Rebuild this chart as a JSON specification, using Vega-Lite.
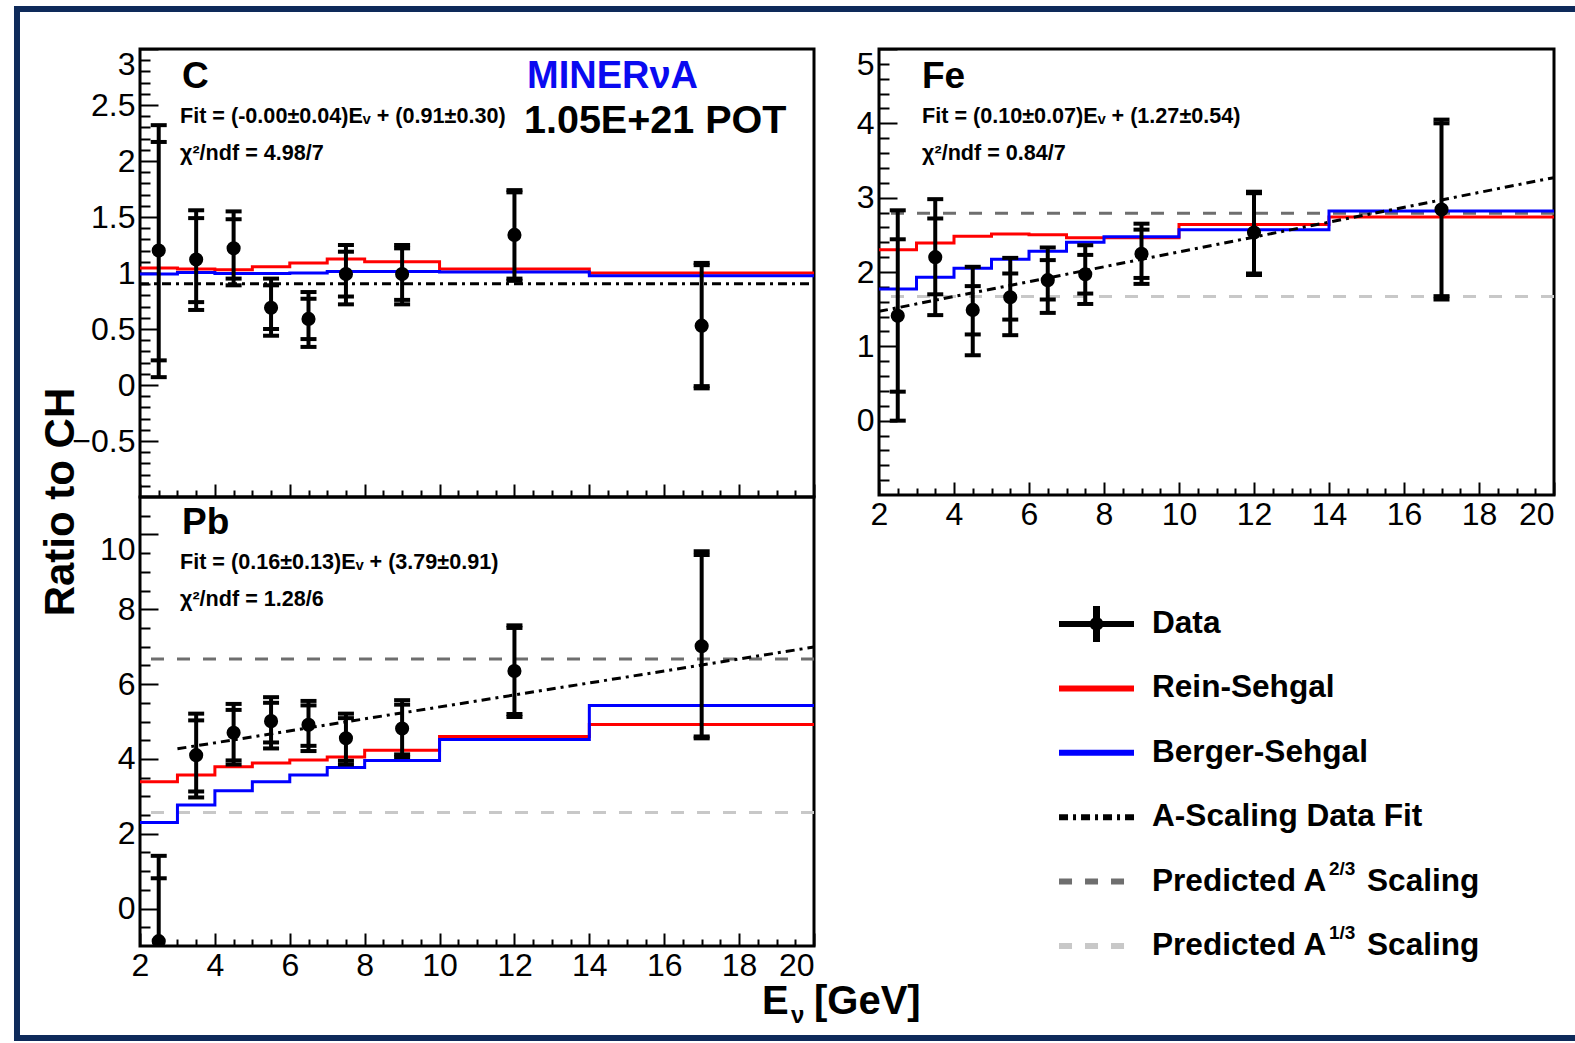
{
  "$schema": "https://vega.github.io/schema/vega-lite/v6.json",
  "padding": {"left": 9, "top": 1, "right": 0, "bottom": 1},
  "background": "white",
  "config": {
    "view": {"stroke": "black", "strokeWidth": 3},
    "axis": {"labelFont": "Liberation Sans", "labelFontSize": 32, "labelColor": "black", "tickColor": "black", "tickWidth": 2, "domain": false, "grid": false, "title": null, "labelOverlap": false, "labelFlush": false, "format": "~r"}
  },
  "datasets": {
    "one": [{}],
    "points": [
      {"panel": "C", "E": 2.5, "r": 1.2, "in_lo": 0.22, "in_hi": 2.17, "out_lo": 0.07, "out_hi": 2.32},
      {"panel": "C", "E": 3.5, "r": 1.12, "in_lo": 0.74, "in_hi": 1.49, "out_lo": 0.67, "out_hi": 1.56},
      {"panel": "C", "E": 4.5, "r": 1.22, "in_lo": 0.95, "in_hi": 1.48, "out_lo": 0.89, "out_hi": 1.55},
      {"panel": "C", "E": 5.5, "r": 0.69, "in_lo": 0.5, "in_hi": 0.89, "out_lo": 0.44, "out_hi": 0.95},
      {"panel": "C", "E": 6.5, "r": 0.59, "in_lo": 0.41, "in_hi": 0.77, "out_lo": 0.34, "out_hi": 0.83},
      {"panel": "C", "E": 7.5, "r": 0.99, "in_lo": 0.79, "in_hi": 1.19, "out_lo": 0.72, "out_hi": 1.25},
      {"panel": "C", "E": 9, "r": 0.99, "in_lo": 0.76, "in_hi": 1.22, "out_lo": 0.72, "out_hi": 1.25},
      {"panel": "C", "E": 12, "r": 1.34, "in_lo": 0.95, "in_hi": 1.72, "out_lo": 0.93, "out_hi": 1.74},
      {"panel": "C", "E": 17, "r": 0.53, "in_lo": -0.01, "in_hi": 1.07, "out_lo": -0.03, "out_hi": 1.09},
      {"panel": "Fe", "E": 2.5, "r": 1.41, "in_lo": 0.39, "in_hi": 2.44, "out_lo": 0.0, "out_hi": 2.83},
      {"panel": "Fe", "E": 3.5, "r": 2.2, "in_lo": 1.7, "in_hi": 2.72, "out_lo": 1.42, "out_hi": 2.98},
      {"panel": "Fe", "E": 4.5, "r": 1.49, "in_lo": 1.16, "in_hi": 1.81, "out_lo": 0.88, "out_hi": 2.07},
      {"panel": "Fe", "E": 5.5, "r": 1.66, "in_lo": 1.36, "in_hi": 1.98, "out_lo": 1.15, "out_hi": 2.19},
      {"panel": "Fe", "E": 6.5, "r": 1.89, "in_lo": 1.63, "in_hi": 2.16, "out_lo": 1.45, "out_hi": 2.33},
      {"panel": "Fe", "E": 7.5, "r": 1.97, "in_lo": 1.71, "in_hi": 2.23, "out_lo": 1.57, "out_hi": 2.36},
      {"panel": "Fe", "E": 9, "r": 2.245, "in_lo": 1.92, "in_hi": 2.57, "out_lo": 1.84, "out_hi": 2.65},
      {"panel": "Fe", "E": 12, "r": 2.53, "in_lo": 1.98, "in_hi": 3.06, "out_lo": 1.96, "out_hi": 3.08},
      {"panel": "Fe", "E": 17, "r": 2.84, "in_lo": 1.675, "in_hi": 4.0, "out_lo": 1.63, "out_hi": 4.05},
      {"panel": "Pb", "E": 2.5, "r": -0.87, "in_lo": -2.55, "in_hi": 0.81, "out_lo": -3.15, "out_hi": 1.41},
      {"panel": "Pb", "E": 3.5, "r": 4.1, "in_lo": 3.13, "in_hi": 5.03, "out_lo": 2.97, "out_hi": 5.21},
      {"panel": "Pb", "E": 4.5, "r": 4.7, "in_lo": 3.96, "in_hi": 5.31, "out_lo": 3.85, "out_hi": 5.47},
      {"panel": "Pb", "E": 5.5, "r": 5.01, "in_lo": 4.44, "in_hi": 5.5, "out_lo": 4.28, "out_hi": 5.65},
      {"panel": "Pb", "E": 6.5, "r": 4.91, "in_lo": 4.35, "in_hi": 5.43, "out_lo": 4.21, "out_hi": 5.55},
      {"panel": "Pb", "E": 7.5, "r": 4.55, "in_lo": 3.95, "in_hi": 5.09, "out_lo": 3.85, "out_hi": 5.21},
      {"panel": "Pb", "E": 9, "r": 4.81, "in_lo": 4.12, "in_hi": 5.45, "out_lo": 4.05, "out_hi": 5.57},
      {"panel": "Pb", "E": 12, "r": 6.35, "in_lo": 5.2, "in_hi": 7.5, "out_lo": 5.12, "out_hi": 7.57},
      {"panel": "Pb", "E": 17, "r": 7.01, "in_lo": 4.6, "in_hi": 9.45, "out_lo": 4.55, "out_hi": 9.55}
    ],
    "steps": [
      {"panel": "C", "series": "Rein-Sehgal", "E": 2, "r": 1.044},
      {"panel": "C", "series": "Rein-Sehgal", "E": 3, "r": 1.035},
      {"panel": "C", "series": "Rein-Sehgal", "E": 4, "r": 1.03},
      {"panel": "C", "series": "Rein-Sehgal", "E": 5, "r": 1.055},
      {"panel": "C", "series": "Rein-Sehgal", "E": 6, "r": 1.09},
      {"panel": "C", "series": "Rein-Sehgal", "E": 7, "r": 1.125},
      {"panel": "C", "series": "Rein-Sehgal", "E": 8, "r": 1.1},
      {"panel": "C", "series": "Rein-Sehgal", "E": 10, "r": 1.035},
      {"panel": "C", "series": "Rein-Sehgal", "E": 14, "r": 1.0},
      {"panel": "C", "series": "Rein-Sehgal", "E": 20, "r": 1.0},
      {"panel": "C", "series": "Berger-Sehgal", "E": 2, "r": 0.99},
      {"panel": "C", "series": "Berger-Sehgal", "E": 3, "r": 1.005},
      {"panel": "C", "series": "Berger-Sehgal", "E": 4, "r": 0.995},
      {"panel": "C", "series": "Berger-Sehgal", "E": 5, "r": 0.995},
      {"panel": "C", "series": "Berger-Sehgal", "E": 6, "r": 1.0},
      {"panel": "C", "series": "Berger-Sehgal", "E": 7, "r": 1.013},
      {"panel": "C", "series": "Berger-Sehgal", "E": 8, "r": 1.013},
      {"panel": "C", "series": "Berger-Sehgal", "E": 10, "r": 1.008},
      {"panel": "C", "series": "Berger-Sehgal", "E": 14, "r": 0.975},
      {"panel": "C", "series": "Berger-Sehgal", "E": 20, "r": 0.975},
      {"panel": "Fe", "series": "Rein-Sehgal", "E": 2, "r": 2.3},
      {"panel": "Fe", "series": "Rein-Sehgal", "E": 3, "r": 2.39},
      {"panel": "Fe", "series": "Rein-Sehgal", "E": 4, "r": 2.48},
      {"panel": "Fe", "series": "Rein-Sehgal", "E": 5, "r": 2.51},
      {"panel": "Fe", "series": "Rein-Sehgal", "E": 6, "r": 2.5},
      {"panel": "Fe", "series": "Rein-Sehgal", "E": 7, "r": 2.46},
      {"panel": "Fe", "series": "Rein-Sehgal", "E": 8, "r": 2.46},
      {"panel": "Fe", "series": "Rein-Sehgal", "E": 10, "r": 2.64},
      {"panel": "Fe", "series": "Rein-Sehgal", "E": 14, "r": 2.74},
      {"panel": "Fe", "series": "Rein-Sehgal", "E": 20, "r": 2.74},
      {"panel": "Fe", "series": "Berger-Sehgal", "E": 2, "r": 1.77},
      {"panel": "Fe", "series": "Berger-Sehgal", "E": 3, "r": 1.93},
      {"panel": "Fe", "series": "Berger-Sehgal", "E": 4, "r": 2.05},
      {"panel": "Fe", "series": "Berger-Sehgal", "E": 5, "r": 2.17},
      {"panel": "Fe", "series": "Berger-Sehgal", "E": 6, "r": 2.28},
      {"panel": "Fe", "series": "Berger-Sehgal", "E": 7, "r": 2.4},
      {"panel": "Fe", "series": "Berger-Sehgal", "E": 8, "r": 2.475},
      {"panel": "Fe", "series": "Berger-Sehgal", "E": 10, "r": 2.57},
      {"panel": "Fe", "series": "Berger-Sehgal", "E": 14, "r": 2.82},
      {"panel": "Fe", "series": "Berger-Sehgal", "E": 20, "r": 2.82},
      {"panel": "Pb", "series": "Rein-Sehgal", "E": 2, "r": 3.39},
      {"panel": "Pb", "series": "Rein-Sehgal", "E": 3, "r": 3.57},
      {"panel": "Pb", "series": "Rein-Sehgal", "E": 4, "r": 3.79},
      {"panel": "Pb", "series": "Rein-Sehgal", "E": 5, "r": 3.89},
      {"panel": "Pb", "series": "Rein-Sehgal", "E": 6, "r": 3.97},
      {"panel": "Pb", "series": "Rein-Sehgal", "E": 7, "r": 4.05},
      {"panel": "Pb", "series": "Rein-Sehgal", "E": 8, "r": 4.23},
      {"panel": "Pb", "series": "Rein-Sehgal", "E": 10, "r": 4.6},
      {"panel": "Pb", "series": "Rein-Sehgal", "E": 14, "r": 4.92},
      {"panel": "Pb", "series": "Rein-Sehgal", "E": 20, "r": 4.92},
      {"panel": "Pb", "series": "Berger-Sehgal", "E": 2, "r": 2.3},
      {"panel": "Pb", "series": "Berger-Sehgal", "E": 3, "r": 2.77},
      {"panel": "Pb", "series": "Berger-Sehgal", "E": 4, "r": 3.15},
      {"panel": "Pb", "series": "Berger-Sehgal", "E": 5, "r": 3.39},
      {"panel": "Pb", "series": "Berger-Sehgal", "E": 6, "r": 3.57},
      {"panel": "Pb", "series": "Berger-Sehgal", "E": 7, "r": 3.77},
      {"panel": "Pb", "series": "Berger-Sehgal", "E": 8, "r": 3.96},
      {"panel": "Pb", "series": "Berger-Sehgal", "E": 10, "r": 4.52},
      {"panel": "Pb", "series": "Berger-Sehgal", "E": 14, "r": 5.43},
      {"panel": "Pb", "series": "Berger-Sehgal", "E": 20, "r": 5.43}
    ],
    "fits": [
      {"panel": "C", "series": "A-Scaling Data Fit", "E": 2, "r": 0.905},
      {"panel": "C", "series": "A-Scaling Data Fit", "E": 20, "r": 0.905},
      {"panel": "Fe", "series": "A-Scaling Data Fit", "E": 2, "r": 1.47},
      {"panel": "Fe", "series": "A-Scaling Data Fit", "E": 20, "r": 3.27},
      {"panel": "Pb", "series": "A-Scaling Data Fit", "E": 3, "r": 4.27},
      {"panel": "Pb", "series": "A-Scaling Data Fit", "E": 20, "r": 6.99}
    ],
    "preds": [
      {"panel": "Fe", "series": "Predicted A2/3", "r": 2.79},
      {"panel": "Fe", "series": "Predicted A1/3", "r": 1.67},
      {"panel": "Pb", "series": "Predicted A2/3", "r": 6.67},
      {"panel": "Pb", "series": "Predicted A1/3", "r": 2.57}
    ],
    "legend": [
      {"series": "Data", "label": "Data"},
      {"series": "Rein-Sehgal", "label": "Rein-Sehgal"},
      {"series": "Berger-Sehgal", "label": "Berger-Sehgal"},
      {"series": "A-Scaling Data Fit", "label": "A-Scaling Data Fit"},
      {"series": "Predicted A2/3", "label": "Predicted A", "sup": "2/3", "tail": "Scaling"},
      {"series": "Predicted A1/3", "label": "Predicted A", "sup": "1/3", "tail": "Scaling"}
    ]
  },
  "columns": 2,
  "spacing": {"row": 0, "column": 65},
  "bounds": "flush",
  "concat": [
    {
      "width": 674, "height": 448,
      "resolve": {"axis": {"x": "independent", "y": "independent"}},
      "layer": [
        {"data": {"name": "one"}, "mark": {"type": "rule", "color": "#0e2a5a", "strokeWidth": 6, "clip": false},
         "encoding": {"x": {"datum": -1.285, "type": "quantitative", "scale": {"domain": [2, 20], "nice": false, "zero": false}, "axis": null},
                      "y": {"datum": 3.384, "type": "quantitative", "scale": {"domain": [-1, 3], "nice": false, "zero": false}, "axis": null},
                      "y2": {"datum": -5.857}}},
        {"data": {"name": "one"}, "mark": {"type": "rule", "color": "#0e2a5a", "strokeWidth": 6, "clip": false},
         "encoding": {"x": {"datum": -1.365, "type": "quantitative", "axis": null}, "x2": {"datum": 40.377},
                      "y": {"datum": 3.357, "type": "quantitative", "axis": null}}},
        {"data": {"name": "one"}, "mark": {"type": "rule", "color": "#0e2a5a", "strokeWidth": 6, "clip": false},
         "encoding": {"x": {"datum": -1.365, "type": "quantitative", "axis": null}, "x2": {"datum": 40.377},
                      "y": {"datum": -5.83, "type": "quantitative", "axis": null}}},
        {"data": {"name": "steps"}, "transform": [{"filter": "datum.panel == 'C'"}],
         "mark": {"type": "line", "interpolate": "step-after", "strokeWidth": 3, "clip": true},
         "encoding": {
           "x": {"field": "E", "type": "quantitative", "axis": {"orient": "bottom", "values": [2, 4, 6, 8, 10, 12, 14, 16, 18, 20], "tickSize": -13, "labels": false}},
           "y": {"field": "r", "type": "quantitative", "axis": {"orient": "left", "values": [-0.5, 0, 0.5, 1, 1.5, 2, 2.5, 3], "tickSize": -18, "labelPadding": 23, "labelBaseline": {"condition": {"test": "datum.value == 3", "value": "top"}, "value": "middle"}}},
           "color": {"field": "series", "type": "nominal", "legend": null, "scale": {"domain": ["Data", "Rein-Sehgal", "Berger-Sehgal", "A-Scaling Data Fit", "Predicted A2/3", "Predicted A1/3"], "range": ["#000000", "#ff0000", "#0000ff", "#000000", "#6e6e6e", "#c8c8c8"]}}
         }},
        {"data": {"name": "fits"}, "transform": [{"filter": "datum.panel == 'C'"}],
         "mark": {"type": "line", "strokeWidth": 3, "clip": true},
         "encoding": {
           "x": {"field": "E", "type": "quantitative", "axis": {"orient": "bottom", "values": [2.5, 3, 3.5, 4.5, 5, 5.5, 6.5, 7, 7.5, 8.5, 9, 9.5, 10.5, 11, 11.5, 12.5, 13, 13.5, 14.5, 15, 15.5, 16.5, 17, 17.5, 18.5, 19, 19.5], "tickSize": -7, "labels": false}},
           "y": {"field": "r", "type": "quantitative", "axis": {"orient": "left", "values": [-0.9, -0.8, -0.7, -0.6, -0.4, -0.3, -0.2, -0.1, 0.1, 0.2, 0.3, 0.4, 0.6, 0.7, 0.8, 0.9, 1.1, 1.2, 1.3, 1.4, 1.6, 1.7, 1.8, 1.9, 2.1, 2.2, 2.3, 2.4, 2.6, 2.7, 2.8, 2.9], "tickSize": -10, "labels": false}},
           "color": {"field": "series", "type": "nominal", "legend": null},
           "strokeDash": {"field": "series", "type": "nominal", "legend": null, "scale": {"domain": ["Data", "Rein-Sehgal", "Berger-Sehgal", "A-Scaling Data Fit", "Predicted A2/3", "Predicted A1/3"], "range": [[1, 0], [1, 0], [1, 0], [9, 5, 3, 5], [13, 13], [13, 13]]}}
         }},
        {"data": {"name": "points"}, "transform": [{"filter": "datum.panel == 'C'"}],
         "mark": {"type": "rule", "strokeWidth": 4, "color": "black", "clip": true},
         "encoding": {"x": {"field": "E", "type": "quantitative", "axis": null}, "y": {"field": "out_lo", "type": "quantitative", "axis": null}, "y2": {"field": "out_hi"}}},
        {"data": {"name": "points"}, "transform": [{"filter": "datum.panel == 'C'"}, {"fold": ["in_lo", "in_hi", "out_lo", "out_hi"], "as": ["bound", "v"]}],
         "mark": {"type": "tick", "orient": "horizontal", "size": 16, "thickness": 4, "color": "black", "opacity": 1, "clip": true},
         "encoding": {"x": {"field": "E", "type": "quantitative", "axis": null}, "y": {"field": "v", "type": "quantitative", "axis": null}}},
        {"data": {"name": "points"}, "transform": [{"filter": "datum.panel == 'C'"}],
         "mark": {"type": "point", "filled": true, "shape": "circle", "size": 200, "color": "black", "opacity": 1, "clip": true},
         "encoding": {"x": {"field": "E", "type": "quantitative", "axis": null}, "y": {"field": "r", "type": "quantitative", "axis": null}}},
        {"data": {"name": "one"}, "mark": {"type": "text", "text": "C", "font": "Liberation Sans", "fontWeight": "bold", "fontSize": 37, "align": "left", "baseline": "alphabetic", "color": "black"},
         "encoding": {"x": {"datum": 3.122, "axis": null}, "y": {"datum": 2.652, "axis": null}}},
        {"data": {"name": "one"}, "mark": {"type": "text", "text": "MINERνA", "font": "Liberation Sans", "fontWeight": "bold", "fontSize": 38, "align": "left", "baseline": "alphabetic", "color": "#0a0af0"},
         "encoding": {"x": {"datum": 12.335, "axis": null}, "y": {"datum": 2.652, "axis": null}}},
        {"data": {"name": "one"}, "mark": {"type": "text", "text": "1.05E+21 POT", "font": "Liberation Sans", "fontWeight": "bold", "fontSize": 39.5, "align": "left", "baseline": "alphabetic", "color": "black"},
         "encoding": {"x": {"datum": 12.255, "axis": null}, "y": {"datum": 2.25, "axis": null}}},
        {"data": {"name": "one"}, "mark": {"type": "text", "text": "Fit = (-0.00±0.04)Eᵥ + (0.91±0.30)", "font": "Liberation Sans", "fontWeight": "bold", "fontSize": 21.6, "align": "left", "baseline": "alphabetic", "color": "black"},
         "encoding": {"x": {"datum": 3.068, "axis": null}, "y": {"datum": 2.339, "axis": null}}},
        {"data": {"name": "one"}, "mark": {"type": "text", "text": "χ²/ndf = 4.98/7", "font": "Liberation Sans", "fontWeight": "bold", "fontSize": 21.6, "align": "left", "baseline": "alphabetic", "color": "black"},
         "encoding": {"x": {"datum": 3.068, "axis": null}, "y": {"datum": 2.009, "axis": null}}},
        {"data": {"name": "one"}, "mark": {"type": "text", "text": "Ratio to CH", "font": "Liberation Sans", "fontWeight": "bold", "fontSize": 42, "align": "center", "baseline": "middle", "angle": 270, "color": "black"},
         "encoding": {"x": {"datum": -0.11, "axis": null}, "y": {"datum": -1.045, "axis": null}}}
      ]
    },
    {
      "width": 675, "height": 446,
      "resolve": {"axis": {"x": "independent", "y": "independent"}},
      "layer": [
        {"data": {"name": "preds"}, "transform": [{"filter": "datum.panel == 'Fe'"}],
         "mark": {"type": "rule", "strokeWidth": 3, "clip": true},
         "encoding": {
           "y": {"field": "r", "type": "quantitative", "axis": null, "scale": {"domain": [-1, 5], "nice": false, "zero": false}},
           "color": {"field": "series", "type": "nominal", "legend": null, "scale": {"domain": ["Data", "Rein-Sehgal", "Berger-Sehgal", "A-Scaling Data Fit", "Predicted A2/3", "Predicted A1/3"], "range": ["#000000", "#ff0000", "#0000ff", "#000000", "#6e6e6e", "#c8c8c8"]}},
           "strokeDash": {"field": "series", "type": "nominal", "legend": null, "scale": {"domain": ["Data", "Rein-Sehgal", "Berger-Sehgal", "A-Scaling Data Fit", "Predicted A2/3", "Predicted A1/3"], "range": [[1, 0], [1, 0], [1, 0], [9, 5, 3, 5], [13, 13], [13, 13]]}}
         }},
        {"data": {"name": "steps"}, "transform": [{"filter": "datum.panel == 'Fe'"}],
         "mark": {"type": "line", "interpolate": "step-after", "strokeWidth": 3, "clip": true},
         "encoding": {
           "x": {"field": "E", "type": "quantitative", "scale": {"domain": [2, 20], "nice": false, "zero": false}, "axis": {"orient": "bottom", "values": [2, 4, 6, 8, 10, 12, 14, 16, 18, 20], "tickSize": -13, "labelPadding": 17, "labelAlign": {"condition": {"test": "datum.value == 20", "value": "right"}, "value": "center"}}},
           "y": {"field": "r", "type": "quantitative", "axis": {"orient": "left", "values": [0, 1, 2, 3, 4, 5], "tickSize": -18, "labelPadding": 23, "labelBaseline": {"condition": {"test": "datum.value == 5", "value": "top"}, "value": "middle"}}},
           "color": {"field": "series", "type": "nominal", "legend": null}
         }},
        {"data": {"name": "fits"}, "transform": [{"filter": "datum.panel == 'Fe'"}],
         "mark": {"type": "line", "strokeWidth": 3, "clip": true},
         "encoding": {
           "x": {"field": "E", "type": "quantitative", "axis": {"orient": "bottom", "values": [2.5, 3, 3.5, 4.5, 5, 5.5, 6.5, 7, 7.5, 8.5, 9, 9.5, 10.5, 11, 11.5, 12.5, 13, 13.5, 14.5, 15, 15.5, 16.5, 17, 17.5, 18.5, 19, 19.5], "tickSize": -7, "labels": false}},
           "y": {"field": "r", "type": "quantitative", "axis": {"orient": "left", "values": [-0.8, -0.6, -0.4, -0.2, 0.2, 0.4, 0.6, 0.8, 1.2, 1.4, 1.6, 1.8, 2.2, 2.4, 2.6, 2.8, 3.2, 3.4, 3.6, 3.8, 4.2, 4.4, 4.6, 4.8], "tickSize": -10, "labels": false}},
           "color": {"field": "series", "type": "nominal", "legend": null},
           "strokeDash": {"field": "series", "type": "nominal", "legend": null}
         }},
        {"data": {"name": "points"}, "transform": [{"filter": "datum.panel == 'Fe'"}],
         "mark": {"type": "rule", "strokeWidth": 4, "color": "black", "clip": true},
         "encoding": {"x": {"field": "E", "type": "quantitative", "axis": null}, "y": {"field": "out_lo", "type": "quantitative", "axis": null}, "y2": {"field": "out_hi"}}},
        {"data": {"name": "points"}, "transform": [{"filter": "datum.panel == 'Fe'"}, {"fold": ["in_lo", "in_hi", "out_lo", "out_hi"], "as": ["bound", "v"]}],
         "mark": {"type": "tick", "orient": "horizontal", "size": 16, "thickness": 4, "color": "black", "opacity": 1, "clip": true},
         "encoding": {"x": {"field": "E", "type": "quantitative", "axis": null}, "y": {"field": "v", "type": "quantitative", "axis": null}}},
        {"data": {"name": "points"}, "transform": [{"filter": "datum.panel == 'Fe'"}],
         "mark": {"type": "point", "filled": true, "shape": "circle", "size": 200, "color": "black", "opacity": 1, "clip": true},
         "encoding": {"x": {"field": "E", "type": "quantitative", "axis": null}, "y": {"field": "r", "type": "quantitative", "axis": null}}},
        {"data": {"name": "one"}, "mark": {"type": "text", "text": "Fe", "font": "Liberation Sans", "fontWeight": "bold", "fontSize": 37, "align": "left", "baseline": "alphabetic", "color": "black"},
         "encoding": {"x": {"datum": 3.147, "axis": null}, "y": {"datum": 4.475, "axis": null}}},
        {"data": {"name": "one"}, "mark": {"type": "text", "text": "Fit = (0.10±0.07)Eᵥ + (1.27±0.54)", "font": "Liberation Sans", "fontWeight": "bold", "fontSize": 21.6, "align": "left", "baseline": "alphabetic", "color": "black"},
         "encoding": {"x": {"datum": 3.147, "axis": null}, "y": {"datum": 4.004, "axis": null}}},
        {"data": {"name": "one"}, "mark": {"type": "text", "text": "χ²/ndf = 0.84/7", "font": "Liberation Sans", "fontWeight": "bold", "fontSize": 21.6, "align": "left", "baseline": "alphabetic", "color": "black"},
         "encoding": {"x": {"datum": 3.147, "axis": null}, "y": {"datum": 3.507, "axis": null}}}
      ]
    },
    {
      "width": 674, "height": 449,
      "resolve": {"axis": {"x": "independent", "y": "independent"}},
      "layer": [
        {"data": {"name": "preds"}, "transform": [{"filter": "datum.panel == 'Pb'"}],
         "mark": {"type": "rule", "strokeWidth": 3, "clip": true},
         "encoding": {
           "y": {"field": "r", "type": "quantitative", "axis": null, "scale": {"domain": [-1, 11], "nice": false, "zero": false}},
           "color": {"field": "series", "type": "nominal", "legend": null, "scale": {"domain": ["Data", "Rein-Sehgal", "Berger-Sehgal", "A-Scaling Data Fit", "Predicted A2/3", "Predicted A1/3"], "range": ["#000000", "#ff0000", "#0000ff", "#000000", "#6e6e6e", "#c8c8c8"]}},
           "strokeDash": {"field": "series", "type": "nominal", "legend": null, "scale": {"domain": ["Data", "Rein-Sehgal", "Berger-Sehgal", "A-Scaling Data Fit", "Predicted A2/3", "Predicted A1/3"], "range": [[1, 0], [1, 0], [1, 0], [9, 5, 3, 5], [13, 13], [13, 13]]}}
         }},
        {"data": {"name": "steps"}, "transform": [{"filter": "datum.panel == 'Pb'"}],
         "mark": {"type": "line", "interpolate": "step-after", "strokeWidth": 3, "clip": true},
         "encoding": {
           "x": {"field": "E", "type": "quantitative", "scale": {"domain": [2, 20], "nice": false, "zero": false}, "axis": {"orient": "bottom", "values": [2, 4, 6, 8, 10, 12, 14, 16, 18, 20], "tickSize": -13, "labelPadding": 17, "labelAlign": {"condition": {"test": "datum.value == 20", "value": "right"}, "value": "center"}}},
           "y": {"field": "r", "type": "quantitative", "axis": {"orient": "left", "values": [0, 2, 4, 6, 8, 10], "tickSize": -18, "labelPadding": 23, "labelBaseline": {"condition": {"test": "datum.value == 10", "value": "top"}, "value": "middle"}}},
           "color": {"field": "series", "type": "nominal", "legend": null}
         }},
        {"data": {"name": "fits"}, "transform": [{"filter": "datum.panel == 'Pb'"}],
         "mark": {"type": "line", "strokeWidth": 3, "clip": true},
         "encoding": {
           "x": {"field": "E", "type": "quantitative", "axis": {"orient": "bottom", "values": [2.5, 3, 3.5, 4.5, 5, 5.5, 6.5, 7, 7.5, 8.5, 9, 9.5, 10.5, 11, 11.5, 12.5, 13, 13.5, 14.5, 15, 15.5, 16.5, 17, 17.5, 18.5, 19, 19.5], "tickSize": -7, "labels": false}},
           "y": {"field": "r", "type": "quantitative", "axis": {"orient": "left", "values": [-0.5, 0.5, 1, 1.5, 2.5, 3, 3.5, 4.5, 5, 5.5, 6.5, 7, 7.5, 8.5, 9, 9.5, 10.5], "tickSize": -10, "labels": false}},
           "color": {"field": "series", "type": "nominal", "legend": null},
           "strokeDash": {"field": "series", "type": "nominal", "legend": null}
         }},
        {"data": {"name": "points"}, "transform": [{"filter": "datum.panel == 'Pb'"}],
         "mark": {"type": "rule", "strokeWidth": 4, "color": "black", "clip": true},
         "encoding": {"x": {"field": "E", "type": "quantitative", "axis": null}, "y": {"field": "out_lo", "type": "quantitative", "axis": null}, "y2": {"field": "out_hi"}}},
        {"data": {"name": "points"}, "transform": [{"filter": "datum.panel == 'Pb'"}, {"fold": ["in_lo", "in_hi", "out_lo", "out_hi"], "as": ["bound", "v"]}],
         "mark": {"type": "tick", "orient": "horizontal", "size": 16, "thickness": 4, "color": "black", "opacity": 1, "clip": true},
         "encoding": {"x": {"field": "E", "type": "quantitative", "axis": null}, "y": {"field": "v", "type": "quantitative", "axis": null}}},
        {"data": {"name": "points"}, "transform": [{"filter": "datum.panel == 'Pb'"}],
         "mark": {"type": "point", "filled": true, "shape": "circle", "size": 200, "color": "black", "opacity": 1, "clip": true},
         "encoding": {"x": {"field": "E", "type": "quantitative", "axis": null}, "y": {"field": "r", "type": "quantitative", "axis": null}}},
        {"data": {"name": "one"}, "mark": {"type": "text", "text": "Pb", "font": "Liberation Sans", "fontWeight": "bold", "fontSize": 37, "align": "left", "baseline": "alphabetic", "color": "black"},
         "encoding": {"x": {"datum": 3.122, "axis": null}, "y": {"datum": 10.011, "axis": null}}},
        {"data": {"name": "one"}, "mark": {"type": "text", "text": "Fit = (0.16±0.13)Eᵥ + (3.79±0.91)", "font": "Liberation Sans", "fontWeight": "bold", "fontSize": 21.6, "align": "left", "baseline": "alphabetic", "color": "black"},
         "encoding": {"x": {"datum": 3.068, "axis": null}, "y": {"datum": 9.076, "axis": null}}},
        {"data": {"name": "one"}, "mark": {"type": "text", "text": "χ²/ndf = 1.28/6", "font": "Liberation Sans", "fontWeight": "bold", "fontSize": 21.6, "align": "left", "baseline": "alphabetic", "color": "black"},
         "encoding": {"x": {"datum": 3.068, "axis": null}, "y": {"datum": 8.087, "axis": null}}},
        {"data": {"name": "one"}, "mark": {"type": "text", "text": "E", "font": "Liberation Sans", "fontWeight": "bold", "fontSize": 40, "align": "left", "baseline": "alphabetic", "color": "black"},
         "encoding": {"x": {"datum": 18.611, "axis": null}, "y": {"datum": -2.817, "axis": null}}},
        {"data": {"name": "one"}, "mark": {"type": "text", "text": "ν", "font": "Liberation Sans", "fontWeight": "bold", "fontSize": 24, "align": "left", "baseline": "alphabetic", "color": "black"},
         "encoding": {"x": {"datum": 19.386, "axis": null}, "y": {"datum": -3.058, "axis": null}}},
        {"data": {"name": "one"}, "mark": {"type": "text", "text": "[GeV]", "font": "Liberation Sans", "fontWeight": "bold", "fontSize": 40, "align": "left", "baseline": "alphabetic", "color": "black"},
         "encoding": {"x": {"datum": 20.0, "axis": null}, "y": {"datum": -2.817, "axis": null}}}
      ]
    },
    {
      "width": 675, "height": 449,
      "view": {"stroke": null},
      "data": {"name": "legend"},
      "layer": [
        {"mark": {"type": "rule", "strokeWidth": 6},
         "encoding": {
           "x": {"datum": 0.2667, "type": "quantitative", "scale": {"domain": [0, 1], "nice": false, "zero": false}, "axis": null},
           "x2": {"datum": 0.3778},
           "y": {"field": "series", "type": "nominal", "axis": null, "scale": {"type": "point", "domain": ["Data", "Rein-Sehgal", "Berger-Sehgal", "A-Scaling Data Fit", "Predicted A2/3", "Predicted A1/3"], "padding": 0.986, "align": 1}},
           "color": {"field": "series", "type": "nominal", "legend": null, "scale": {"domain": ["Data", "Rein-Sehgal", "Berger-Sehgal", "A-Scaling Data Fit", "Predicted A2/3", "Predicted A1/3"], "range": ["#000000", "#ff0000", "#0000ff", "#000000", "#6e6e6e", "#c8c8c8"]}},
           "strokeDash": {"field": "series", "type": "nominal", "legend": null, "scale": {"domain": ["Data", "Rein-Sehgal", "Berger-Sehgal", "A-Scaling Data Fit", "Predicted A2/3", "Predicted A1/3"], "range": [[1, 0], [1, 0], [1, 0], [7, 6, 3, 6], [13, 13], [13, 13]]}}
         }},
        {"transform": [{"filter": "datum.series == 'Data'"}],
         "mark": {"type": "tick", "orient": "vertical", "size": 36, "thickness": 7, "color": "black", "opacity": 1},
         "encoding": {"x": {"datum": 0.3222, "type": "quantitative"}, "y": {"field": "series", "type": "nominal"}}},
        {"transform": [{"filter": "datum.series == 'Data'"}],
         "mark": {"type": "point", "filled": true, "shape": "circle", "size": 190, "color": "black", "opacity": 1},
         "encoding": {"x": {"datum": 0.3222, "type": "quantitative"}, "y": {"field": "series", "type": "nominal"}}},
        {"mark": {"type": "text", "font": "Liberation Sans", "fontWeight": "bold", "fontSize": 31.6, "align": "left", "baseline": "middle", "color": "black"},
         "encoding": {"x": {"datum": 0.4044, "type": "quantitative"}, "y": {"field": "series", "type": "nominal"}, "text": {"field": "label"}}},
        {"transform": [{"filter": "datum.sup"}],
         "mark": {"type": "text", "font": "Liberation Sans", "fontWeight": "bold", "fontSize": 19, "align": "left", "baseline": "middle", "dy": -13, "color": "black"},
         "encoding": {"x": {"datum": 0.6667, "type": "quantitative"}, "y": {"field": "series", "type": "nominal"}, "text": {"field": "sup"}}},
        {"transform": [{"filter": "datum.tail"}],
         "mark": {"type": "text", "font": "Liberation Sans", "fontWeight": "bold", "fontSize": 31.6, "align": "left", "baseline": "middle", "color": "black"},
         "encoding": {"x": {"datum": 0.723, "type": "quantitative"}, "y": {"field": "series", "type": "nominal"}, "text": {"field": "tail"}}}
      ]
    }
  ]
}
